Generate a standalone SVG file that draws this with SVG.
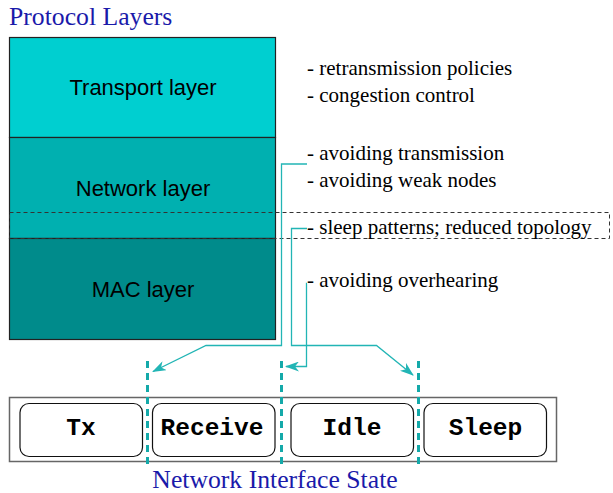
<svg xmlns="http://www.w3.org/2000/svg" width="613" height="493" viewBox="0 0 613 493">
<style>
.title{font-family:"Liberation Serif","Times New Roman",serif;font-size:25.7px;fill:#1a1aaa}
.note{font-family:"Liberation Serif","Times New Roman",serif;font-size:21px;fill:#000}
.layer{font-family:"Liberation Sans",Arial,sans-serif;font-size:22px;fill:#000;text-anchor:middle}
.state{font-family:"Liberation Mono","Courier New",monospace;font-size:24.5px;font-weight:bold;fill:#000;text-anchor:middle}
.lbox{stroke:#222;stroke-width:1.2}
.sbox{fill:#fff;stroke:#111;stroke-width:1.2}
.conn{fill:none;stroke:#22b5b5;stroke-width:1.3}
.div{stroke:#14a9a9;stroke-width:3;stroke-dasharray:7,5}
.dash{fill:none;stroke:#333;stroke-width:1;stroke-dasharray:4,3}
</style>
<defs>
<marker id="arr" viewBox="0 0 14 10" refX="13" refY="5" markerWidth="14" markerHeight="10" markerUnits="userSpaceOnUse" orient="auto">
<path d="M0,0 L14,5 L0,10 L4,5 Z" fill="#22b5b5"/>
</marker>
</defs>
<text class="title" x="9" y="25">Protocol Layers</text>
<g id="transport"><rect class="lbox" x="9.5" y="37.5" width="266" height="100" fill="#00cfd0"/><text class="layer" x="143" y="95">Transport layer</text></g>
<g id="network"><rect class="lbox" x="9.5" y="137.5" width="266" height="101" fill="#00b0b0"/><text class="layer" x="143" y="196">Network layer</text></g>
<g id="mac"><rect class="lbox" x="9.5" y="238.5" width="266" height="101" fill="#008b8b"/><text class="layer" x="143" y="297">MAC layer</text></g>
<g id="cross-layer"><rect class="dash" x="9.5" y="212.5" width="600" height="26"/></g>
<g id="notes">
<text class="note" x="307" y="75">- retransmission policies</text>
<text class="note" x="307" y="102">- congestion control</text>
<text class="note" x="307" y="160">- avoiding transmission</text>
<text class="note" x="307" y="187">- avoiding weak nodes</text>
<text class="note" x="307" y="234">- sleep patterns; reduced topology</text>
<text class="note" x="307" y="287">- avoiding overhearing</text>
</g>
<g id="interface">
<rect x="9.5" y="397.5" width="547" height="64" fill="#fff" stroke="#666" stroke-width="1.5"/>
<g id="tx"><rect class="sbox" x="20" y="403.5" width="122.5" height="53" rx="9"/><text class="state" x="81" y="435">Tx</text></g>
<g id="receive"><rect class="sbox" x="152.5" y="403.5" width="122.5" height="53" rx="9"/><text class="state" x="212" y="435">Receive</text></g>
<g id="idle"><rect class="sbox" x="291" y="403.5" width="122.5" height="53" rx="9"/><text class="state" x="352" y="435">Idle</text></g>
<g id="sleep"><rect class="sbox" x="424" y="403.5" width="122.5" height="53" rx="9"/><text class="state" x="485.5" y="435">Sleep</text></g>
<text class="title" x="275" y="488" text-anchor="middle">Network Interface State</text>
</g>
<g id="connectors">
<line class="div" x1="147.5" y1="361" x2="147.5" y2="468"/>
<line class="div" x1="281.5" y1="361" x2="281.5" y2="468"/>
<line class="div" x1="418.5" y1="361" x2="418.5" y2="468"/>
<path class="conn" d="M307,164 H281.5 V345.5 H206 L153,371.5" marker-end="url(#arr)"/>
<path class="conn" d="M307,228.5 H291.5 V345.5 H376.5 L413,375" marker-end="url(#arr)"/>
<path class="conn" d="M307,283.5 H306.5 V366.5 H286" marker-end="url(#arr)"/>
</g>
</svg>
